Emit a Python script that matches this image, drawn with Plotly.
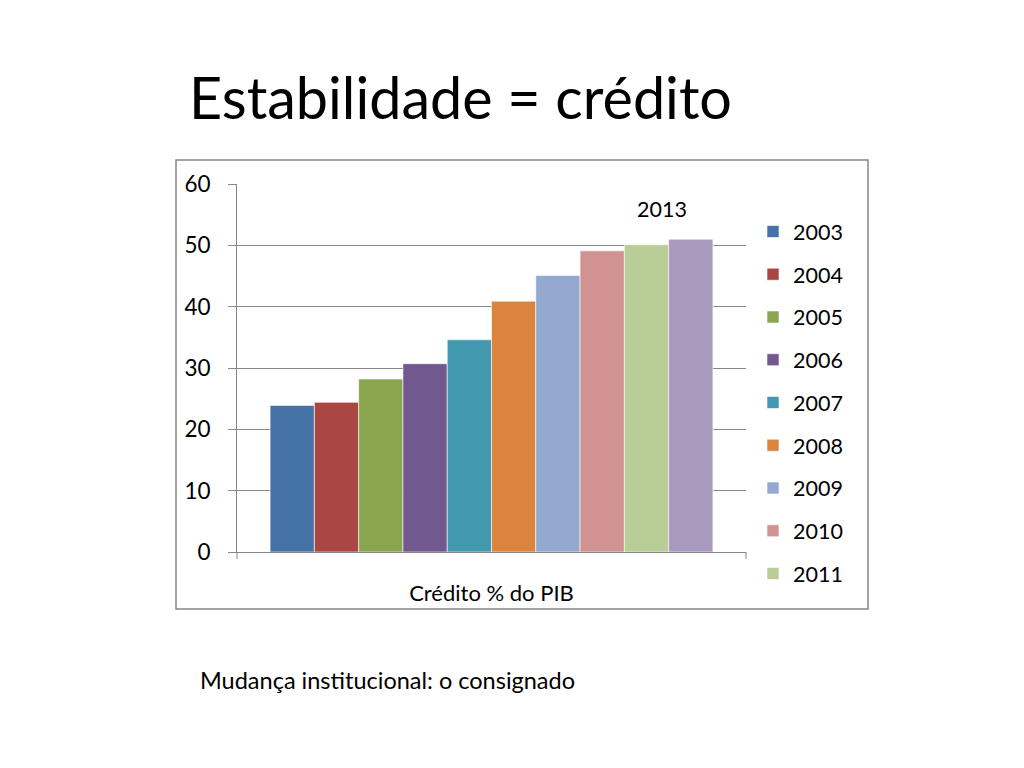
import plotly.graph_objects as go

categoria = ["Crédito % do PIB"]
anos = ["2003", "2004", "2005", "2006", "2007", "2008", "2009", "2010", "2011", "2012"]
credito = [23.9, 24.4, 28.2, 30.7, 34.6, 40.9, 45.1, 49.1, 50.1, 51.0]
cores = ["#4572A7", "#AA4643", "#89A54E", "#71588F", "#4198AF",
         "#DB843D", "#93A9CF", "#D19392", "#B9CD96", "#A99BBD"]
y_ticks = [0, 10, 20, 30, 40, 50, 60]

fonte = "Lato"

fig = go.Figure()

for ano, valor, cor in zip(anos, credito, cores):
    fig.add_trace(go.Bar(x=categoria, y=[valor], name=ano, legendgroup=ano,
                         marker=dict(color=cor, line=dict(color="white", width=0.6)),
                         showlegend=(ano != "2012")))

# page puts the figure 8px in from the window edge
OFF = 8
W, H = 1024, 768
# plot area in screen pixels: x 237..746, y 184..552
L, R, T, B = 237 - OFF, 746 - OFF, 184 - OFF, 552 - OFF

def px_x(p):
    return (p - OFF - L) / (R - L)

def px_y(p):
    return (B - (p - OFF)) / (B - T)

fig.update_layout(
    width=W, height=H,
    margin=dict(l=L, r=W - R, t=T, b=H - B, autoexpand=False),
    plot_bgcolor="white", paper_bgcolor="white",
    barmode="group", bargap=0.13, bargroupgap=0,
    font=dict(family=fonte, color="black", size=21),
    legend=dict(x=px_x(753), y=px_y(211), xanchor="left", yanchor="top",
                font=dict(size=21.5), tracegroupgap=11.8, itemwidth=30,
                maxheight=460, bgcolor="rgba(0,0,0,0)"),
    showlegend=True,
)

fig.update_yaxes(range=[0, 60], tickvals=y_ticks, showgrid=True, gridcolor="#868686",
                 gridwidth=1, showline=True, linecolor="#868686", linewidth=1,
                 ticks="outside", ticklen=8, tickcolor="#868686",
                 tickfont=dict(size=22.5), ticklabelstandoff=13, zeroline=False)

fig.update_xaxes(showline=True, linecolor="#868686", linewidth=1, ticks="",
                 tickfont=dict(size=22), ticklabelstandoff=22, showgrid=False)

# end ticks on the category axis
for xp in (0, 1):
    fig.add_shape(type="line", xref="paper", yref="paper", x0=xp, x1=xp,
                  y0=0, y1=px_y(559), line=dict(color="#868686", width=1))

# chart frame
fig.add_shape(type="rect", xref="paper", yref="paper",
              x0=px_x(176), x1=px_x(868), y0=px_y(609), y1=px_y(160),
              line=dict(color="#868686", width=1.5), layer="below")

fig.add_annotation(text="Estabilidade = crédito", xref="paper", yref="paper",
                   x=px_x(187), y=px_y(97), xanchor="left", yanchor="middle",
                   showarrow=False, font=dict(size=57.5, family=fonte))
fig.add_annotation(text="2013", xref="paper", yref="paper",
                   x=px_x(662), y=px_y(209), xanchor="center", yanchor="middle",
                   showarrow=False, font=dict(size=21.5, family=fonte))
fig.add_annotation(text="Mudança institucional: o consignado", xref="paper", yref="paper",
                   x=px_x(198), y=px_y(680), xanchor="left", yanchor="middle",
                   showarrow=False, font=dict(size=23.5, family=fonte))

fig.write_html("out.html")
